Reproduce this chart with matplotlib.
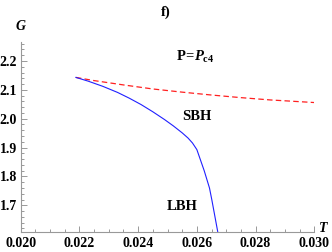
import matplotlib
matplotlib.use("Agg")
import matplotlib.pyplot as plt
from matplotlib.ticker import MultipleLocator, FormatStrFormatter

# Data
T_blue = [0.02188, 0.0223, 0.0228, 0.0233, 0.0237, 0.0241, 0.0245, 0.0249, 0.0252,
          0.0255, 0.0257, 0.02585, 0.0260, 0.02625, 0.02643, 0.02651, 0.02671]
G_blue = [2.143, 2.130, 2.112, 2.091, 2.071, 2.049, 2.024, 1.997, 1.975,
          1.951, 1.933, 1.916, 1.893, 1.820, 1.760, 1.719, 1.609]
T_red = [0.02188, 0.0225, 0.0235, 0.0245, 0.0255, 0.0265, 0.0275, 0.0285, 0.030]
G_red = [2.143, 2.132, 2.117, 2.103, 2.092, 2.082, 2.073, 2.065, 2.056]

x_ticks = [0.020, 0.022, 0.024, 0.026, 0.028, 0.030]
y_ticks = [1.7, 1.8, 1.9, 2.0, 2.1, 2.2]

plt.rcParams.update({
    'font.family': ['Liberation Serif', 'DejaVu Serif'],
    'font.weight': 'bold',
    'mathtext.fontset': 'custom',
    'mathtext.rm': 'Liberation Serif:bold',
    'mathtext.it': 'Liberation Serif:bold:italic',
    'mathtext.bf': 'Liberation Serif:bold',
})

W, H = 332, 252
fig = plt.figure(figsize=(W / 100, H / 100), dpi=100)
x0, x1, y0, y1 = 20.7, 314.3, 41.7, 231.7
ax = fig.add_axes([x0 / W, 1 - y1 / H, (x1 - x0) / W, (y1 - y0) / H])

ax.plot(T_red, G_red, color='#ff2020', lw=0.9, dashes=(4.4, 2.6))
ax.plot(T_blue, G_blue, color='#2020ff', lw=0.8)

ax.set_xlim(0.020, 0.030)
ax.set_ylim(1.6087, 2.2667)
ax.set_xticks(x_ticks)
ax.set_yticks(y_ticks)
ax.xaxis.set_major_formatter(FormatStrFormatter('%.3f'))
ax.yaxis.set_major_formatter(FormatStrFormatter('%.1f'))
ax.xaxis.set_minor_locator(MultipleLocator(0.0005))
ax.yaxis.set_minor_locator(MultipleLocator(0.02))

for s in ['top', 'right']:
    ax.spines[s].set_visible(False)
for s in ['left', 'bottom']:
    ax.spines[s].set_color('#999999')
    ax.spines[s].set_linewidth(0.8)

ax.tick_params(which='both', direction='in', color='#999999', width=0.7)
ax.tick_params(which='major', length=4)
ax.tick_params(which='minor', length=2.2)
ax.tick_params(axis='x', which='major', labelsize=10, pad=3.5)
ax.tick_params(axis='y', which='major', labelsize=10, pad=2.5)
for lab in ax.get_xticklabels() + ax.get_yticklabels():
    lab.set_fontweight('bold')

def ft(x, y, s, **kw):
    fig.text(x / W, 1 - y / H, s, **kw)

ft(20.7, 26.7, 'G', fontsize=10, fontstyle='italic', fontweight='bold', ha='center', va='center')
ft(323, 229, 'T', fontsize=10, fontstyle='italic', fontweight='bold', ha='center', va='center')
ft(166, 12, 'f)', fontsize=10.5, fontweight='bold', ha='center', va='center')
ft(176, 57, r'$\mathrm{P\!=\!}P_{\mathrm{c4}}$', fontsize=10.5, ha='left', va='center')
ft(196.5, 117, 'SBH', fontsize=10.5, fontweight='bold', ha='center', va='center')
ft(182, 207, 'LBH', fontsize=10.5, fontweight='bold', ha='center', va='center')

fig.savefig('out.png', dpi=100)
